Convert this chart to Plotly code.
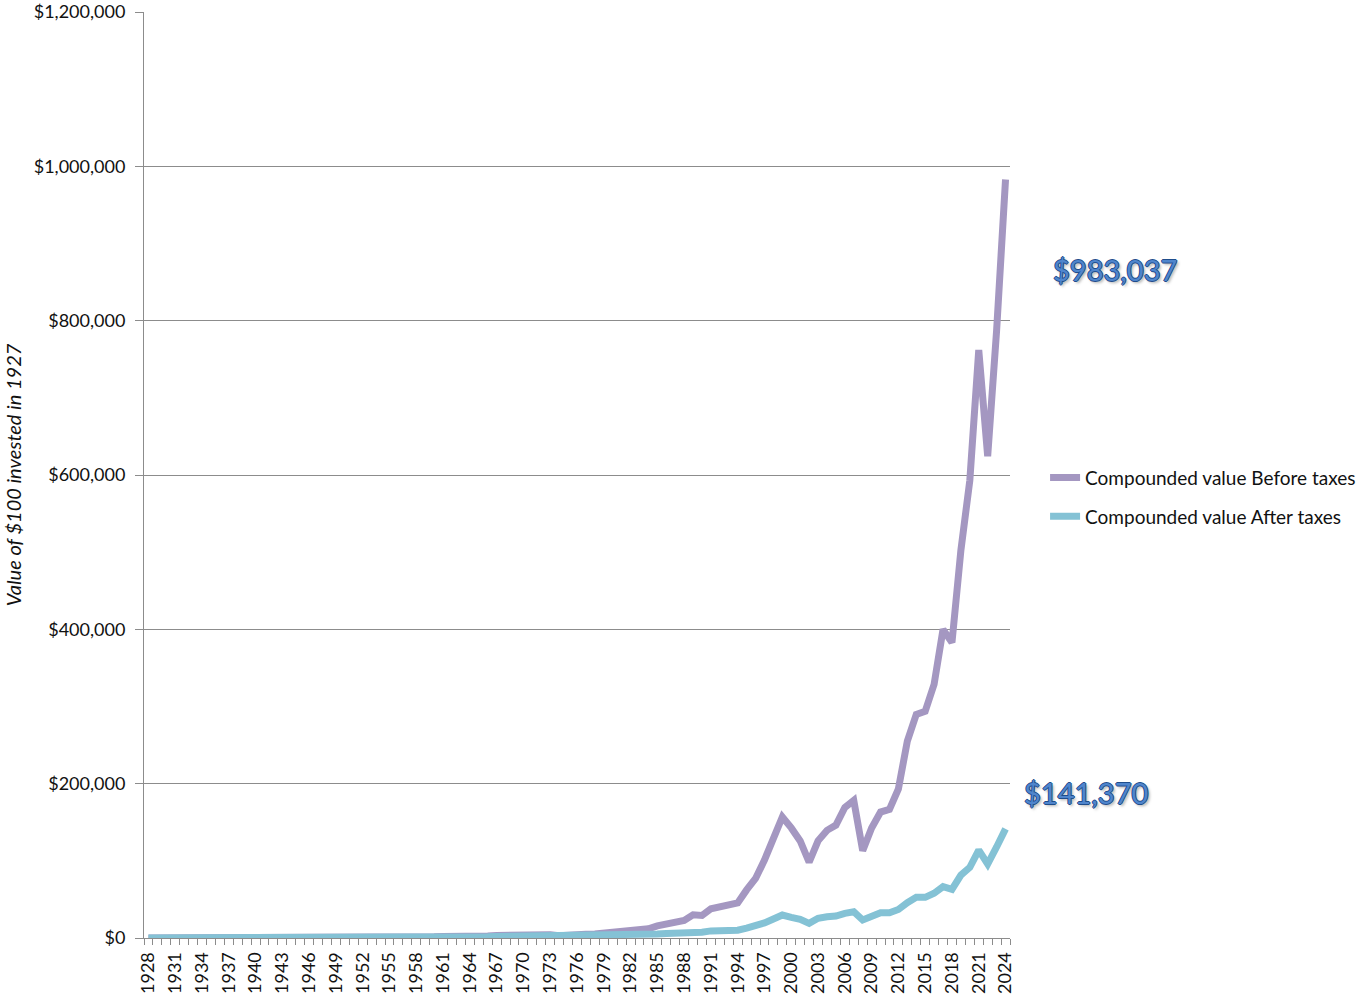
import plotly.graph_objects as go

# Calendar years on the horizontal axis
years = list(range(1928, 2025))

# Compounded value of $100 invested at the start of 1928 (before taxes)
before_taxes = [
    144, 132, 99, 55, 51, 74, 73, 106, 140, 91,
    117, 116, 103, 90, 108, 134, 160, 217, 199, 209,
    221, 262, 342, 427, 504, 498, 760, 1047, 1125, 1007,
    1448, 1622, 1628, 2062, 1880, 2305, 2684, 3017, 2716, 3362,
    3725, 3418, 3540, 4043, 4802, 4115, 3049, 4177, 5173, 4802,
    5117, 6065, 7990, 7614, 9169, 11217, 11907, 15627, 18516, 19592,
    22846, 30038, 29119, 37921, 40761, 44825, 45421, 62318, 77162, 101090,
    129738, 156840, 142678, 125771, 98139, 125971, 139500, 146266, 169098, 178364,
    113172, 142529, 163211, 166639, 193118, 255205, 289708, 293706, 328833, 399894,
    382978, 502505, 593056, 761900, 624453, 787185, 983037,
]

# Compounded value of the same $100 after taxes
after_taxes = [
    143, 130, 97, 54, 49, 71, 69, 99, 129, 83,
    105, 103, 90, 77, 91, 112, 132, 176, 160, 167,
    174, 204, 257, 316, 368, 359, 540, 733, 776, 690,
    977, 1079, 1066, 1330, 1194, 1441, 1651, 1825, 1616, 1967,
    2142, 1931, 1965, 2183, 2521, 2099, 1525, 2026, 2431, 2185,
    2251, 2578, 3276, 3008, 3484, 4094, 4167, 5235, 5925, 5976,
    6400, 7800, 7500, 9200, 9600, 10200, 10100, 12800, 15300, 19600,
    24700, 29800, 26800, 24200, 19000, 25500, 27600, 28500, 32000, 34000,
    23300, 27600, 32800, 32800, 37000, 45800, 52700, 52700, 58000, 66500,
    63000, 81600, 91600, 114000, 95900, 118000, 141370,
]

series_names = ["Compounded value Before taxes", "Compounded value After taxes"]
series_colors = ["#a497c1", "#84c2d5"]

y_ticks = [0, 200000, 400000, 600000, 800000, 1000000, 1200000]
x_label_years = list(range(1928, 2025, 3))

FONT = "Lato, 'Open Sans', sans-serif"
GRID = "#8c8c8c"

fig = go.Figure()
for name, values, color in zip(series_names, [before_taxes, after_taxes], series_colors):
    fig.add_trace(go.Scatter(
        x=years, y=values, name=name, mode="lines",
        line=dict(color=color, width=7),
        legendgroup=name,
    ))

# End-of-period value callouts
outline = "#1f4d8c"
callout_shadow = (f"-1px 0 {outline}, 1px 0 {outline}, 0 -1px {outline}, 0 1px {outline}, "
                  "2px 2px 3px rgba(0,0,0,0.35)")
callouts = [(before_taxes[-1], 1.1213, 866000), (after_taxes[-1], 1.0877, 188000)]
for value, xpos, ypos in callouts:
    fig.add_annotation(
        x=xpos, xref="paper", y=ypos, yref="y",
        text=f"${value:,.0f}", showarrow=False,
        font=dict(family=FONT, size=29, color="#4f85cc", shadow=callout_shadow),
        xanchor="center", yanchor="middle",
    )

fig.update_layout(
    width=1359, height=996,
    margin=dict(l=144, r=349, t=12, b=58, autoexpand=False),
    paper_bgcolor="white", plot_bgcolor="white",
    font=dict(family=FONT, size=18, color="#111111"),
    showlegend=True,
    legend=dict(
        x=1.0405, xanchor="left", y=0.476, yanchor="middle",
        font=dict(family=FONT, size=19, color="#111111"),
        bgcolor="rgba(0,0,0,0)", tracegroupgap=11,
        itemwidth=30,
    ),
    xaxis=dict(
        range=[1927.5, 2024.5], automargin=False,
        tickmode="array", tickvals=x_label_years,
        ticktext=[str(y) for y in x_label_years],
        tickangle=-90, ticks="outside", ticklen=6, tickcolor="rgba(0,0,0,0)",
        minor=dict(ticks="outside", tick0=1927.5, dtick=1, ticklen=6,
                   tickcolor=GRID, tickwidth=1, showgrid=False),
        showgrid=False, zeroline=False,
        showline=True, linecolor=GRID, linewidth=1,
        tickfont=dict(family=FONT, size=18, color="#111111"),
    ),
    yaxis=dict(
        range=[0, 1200000], automargin=False,
        tickmode="array", tickvals=y_ticks,
        tickformat="$,.0f",
        ticks="outside", ticklen=8, tickcolor=GRID,
        ticklabelstandoff=6,
        showgrid=True, gridcolor=GRID, gridwidth=1,
        zeroline=False, showline=True, linecolor=GRID, linewidth=1,
        tickfont=dict(family=FONT, size=18, color="#111111"),
        title=dict(text="<i>Value of $100 invested in 1927</i>",
                   font=dict(family=FONT, size=20, color="#111111"),
                   standoff=6),
    ),
)

fig.write_html("out.html")
